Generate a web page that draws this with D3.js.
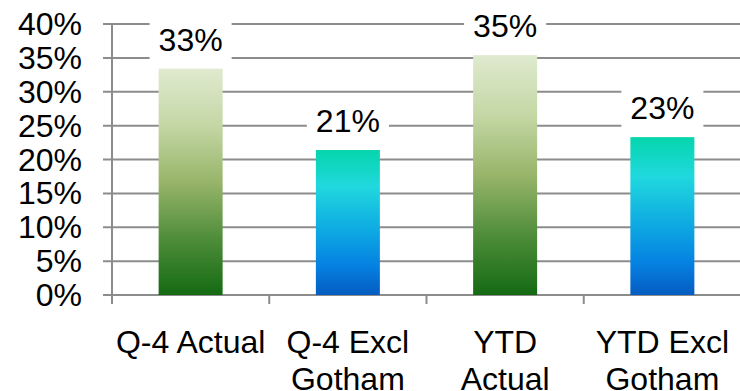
<!DOCTYPE html>
<html><head><meta charset="utf-8">
<script src="https://cdn.jsdelivr.net/npm/d3@7"></script>
<style>html,body{margin:0;padding:0;background:#fff;}svg{display:block;}</style>
</head><body>
<svg id="chart" width="740" height="391"></svg>
<script>
const categories = [["Q-4 Actual"], ["Q-4 Excl", "Gotham"], ["YTD", "Actual"], ["YTD Excl", "Gotham"]];
const values = [0.334, 0.214, 0.354, 0.233];
const gradientKinds = ["green", "blue", "green", "blue"];
const yTicks = [0, 0.05, 0.10, 0.15, 0.20, 0.25, 0.30, 0.35, 0.40];

const svg = d3.select("#chart");
const font = "Liberation Sans, Arial, sans-serif";
const fs = 32;
const gridColor = "#8c8c8c";

const x = d3.scaleBand().domain(d3.range(categories.length)).range([112, 741]).padding(0);
const y = d3.scaleLinear().domain([0, 0.4]).range([295, 24]);
const barW = x.bandwidth() * 0.407;

const defs = svg.append("defs");
const g1 = defs.append("linearGradient").attr("id", "green").attr("x1", 0).attr("y1", 0).attr("x2", 0).attr("y2", 1);
[[0, "#dfeacf"], [0.25, "#c4d7a5"], [0.5, "#98b56a"], [0.75, "#4f8d3a"], [1, "#146a13"]].forEach(([o, c]) => g1.append("stop").attr("offset", o).attr("stop-color", c));
const g2 = defs.append("linearGradient").attr("id", "blue").attr("x1", 0).attr("y1", 0).attr("x2", 0).attr("y2", 1);
[[0, "#05d5ab"], [0.25, "#20d8de"], [0.55, "#0eaae2"], [0.8, "#0581e2"], [1, "#055cc0"]].forEach(([o, c]) => g2.append("stop").attr("offset", o).attr("stop-color", c));

// gridlines
svg.append("g").selectAll("line").data(yTicks).join("line")
  .attr("x1", 103).attr("x2", 741)
  .attr("y1", d => y(d)).attr("y2", d => y(d))
  .attr("stroke", gridColor).attr("stroke-width", 2);

// y axis line
svg.append("line").attr("x1", 112).attr("x2", 112).attr("y1", y(0.4)).attr("y2", 304)
  .attr("stroke", gridColor).attr("stroke-width", 2);

// x ticks at band boundaries
const bounds = d3.range(categories.length + 1).map(i => 112 + i * x.step());
svg.append("g").selectAll("line").data(bounds).join("line")
  .attr("x1", d => d).attr("x2", d => d).attr("y1", 295).attr("y2", 304)
  .attr("stroke", gridColor).attr("stroke-width", 2);

// y tick labels
svg.append("g").selectAll("text").data(yTicks).join("text")
  .attr("x", 82).attr("y", d => y(d) + 11)
  .attr("text-anchor", "end").attr("font-family", font).attr("font-size", fs).attr("fill", "#000")
  .text(d => d3.format(".0%")(d));

// bars
svg.append("g").selectAll("rect").data(values).join("rect")
  .attr("x", (d, i) => x(i) + (x.bandwidth() - barW) / 2)
  .attr("width", barW)
  .attr("y", d => y(d)).attr("height", d => y(0) - y(d))
  .attr("fill", (d, i) => `url(#${gradientKinds[i]})`);

// value labels with white boxes
const lab = svg.append("g").selectAll("g").data(values).join("g");
lab.each(function (d, i) {
  const gg = d3.select(this);
  const cx = x(i) + x.bandwidth() / 2;
  const base = y(d) - 18;
  const t = gg.append("text").attr("x", cx).attr("y", base).attr("text-anchor", "middle")
    .attr("font-family", font).attr("font-size", fs).attr("fill", "#000")
    .text(d3.format(".0%")(d));
  const w = t.node().getComputedTextLength();
  gg.insert("rect", "text").attr("x", cx - w / 2 - 9).attr("width", w + 18)
    .attr("y", base - 30).attr("height", 40).attr("fill", "#fff");
});

// category labels
const cl = svg.append("g").selectAll("text").data(categories).join("text")
  .attr("text-anchor", "middle").attr("font-family", font).attr("font-size", fs).attr("fill", "#000");
cl.each(function (lines, i) {
  const t = d3.select(this);
  const cx = x(i) + x.bandwidth() / 2;
  lines.forEach((s, k) => t.append("tspan").attr("x", cx).attr("y", 353 + k * 36.5).text(s));
});
</script>
</body></html>
